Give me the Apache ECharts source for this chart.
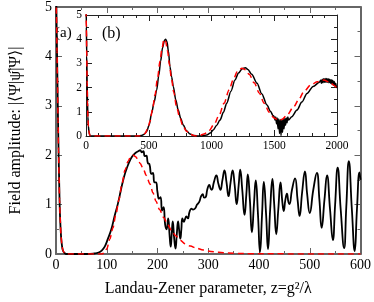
<!DOCTYPE html>
<html>
<head>
<meta charset="utf-8">
<script src="https://cdn.jsdelivr.net/npm/echarts@6/dist/echarts.min.js"></script>
<style>html,body{margin:0;padding:0;background:#fff;}#c{width:374px;height:302px;}</style>
</head>
<body>
<div id="c"></div>
<script>
// Main panel (a): z from 0 to 600
const mainXTicks = [0, 100, 200, 300, 400, 500, 600];
const mainYTicks = [0, 1, 2, 3, 4, 5];
const mainBlack = [[0,5.6],[1,4.8],[2,4.1],[3,3.4],[4,2.7],[5,2.1],[6,1.6],[7,1.1],[8,0.75],[10,0.35],[12,0.15],[14,0.06],[17,0.02],[20,0],[60,0],[75,0.01],[84,0.03],[90,0.07],[96,0.15],[102,0.3],[109,0.5],[115,0.75],[122,1.02],[128,1.3],[134,1.56],[140,1.75],[147,1.92],[152,2.0],[157,2.05],[162,2.08],[166,2.1],[169,2.06],[172,2.08],[175,1.98],[178,1.99],[181,1.84],[184,1.82],[188,1.62],[191,1.64],[194,1.45],[197,1.45],[200,1.25],[203,1.12],[206,1.15],[209,0.88],[212,0.95],[215,0.6],[218,0.5],[221,0.72],[224,0.35],[226,0.15],[228,0.4],[230,0.66],[233,0.3],[235.5,0.11],[238,0.4],[240.5,0.66],[243,0.45],[245,0.31],[247,0.5],[249,0.72],[252,0.65],[254,0.7],[257,0.76],[260,0.72],[263,0.85],[267,0.92],[270,0.9],[274,0.92],[278,1.0],[282,1.05],[286,1.17],[289,1.21],[292,1.14],[295,1.15],[298,1.3],[302,1.40],[305,1.32],[307,1.30],[311,1.45],[316,1.59],[320,1.42],[324,1.30],[328,1.5],[332,1.69],[336,1.45],[340,1.17],[344,1.45],[348,1.69],[352,1.4],[356,1.01],[360,1.4],[363,1.71],[367,1.3],[371.5,0.79],[375,1.2],[378,1.61],[382,1.1],[386,0.44],[390,1.0],[393.6,1.49],[398,0.8],[402,0.04],[406,0.8],[409.5,1.46],[414,0.8],[417.7,0.1],[422,0.9],[426.5,1.52],[430,1.0],[434,0.4],[438,0.9],[442.4,1.45],[446,1.05],[448.7,0.87],[452,1.1],[455,1.22],[458,1.05],[460,1.01],[465,1.3],[471,1.53],[476,1.1],[480,0.77],[485,1.25],[490.5,1.67],[495,1.2],[500,0.83],[507,1.3],[514,1.64],[519,1.1],[523.5,0.53],[529,1.1],[534,1.59],[540,0.9],[545.5,0.28],[550,1.0],[555,1.75],[561,0.9],[567.7,0.12],[572,0.95],[577,1.88],[583,0.9],[588.6,0.06],[593,0.9],[598,1.65],[600,1.5]];
const mainRed = [[0,5.6],[1,4.8],[2,4.1],[3,3.4],[4,2.7],[5,2.1],[6,1.6],[7,1.1],[8,0.75],[10,0.35],[12,0.15],[14,0.06],[17,0.02],[20,0],[90,0],[95,0.02],[100,0.1],[106,0.3],[112,0.52],[118,0.8],[124,1.1],[130,1.42],[136,1.7],[142,1.88],[147,1.97],[152,2.0],[157,1.97],[162,1.9],[166,1.83],[172,1.72],[178,1.59],[185,1.42],[191,1.24],[197,1.07],[204,0.9],[212,0.74],[220,0.6],[228,0.47],[236,0.37],[245,0.28],[254,0.21],[265,0.16],[276,0.12],[290,0.08],[305,0.05],[320,0.035],[340,0.02],[370,0.008],[400,0.003],[600,0]];

// Inset panel (b): z from 0 to 2000
const insetXTicks = [0, 500, 1000, 1500, 2000];
const insetYTicks = [0, 1, 2, 3, 4, 5];
const insetBlack = [[0,5.6],[3,4.5],[6,3.3],[9,2.2],[12,1.4],[15,0.8],[19,0.4],[24,0.15],[30,0.04],[36,0],[420,0],[440,0.02],[460,0.06],[483,0.18],[503,0.45],[523,0.94],[543,1.4],[563,1.9],[580,2.5],[595,3.1],[610,3.65],[625,3.95],[635,4.0],[645,3.9],[657,3.5],[669,2.86],[682,2.45],[696,2.04],[715,1.5],[735,1.07],[755,0.72],[775,0.45],[800,0.22],[829,0.08],[860,0.02],[895,0.0],[930,0.01],[962,0.04],[990,0.12],[1014,0.25],[1040,0.43],[1068,0.66],[1095,0.98],[1121,1.35],[1155,1.85],[1187,2.31],[1215,2.6],[1245,2.78],[1270,2.82],[1290,2.75],[1320,2.55],[1363,2.18],[1400,1.75],[1442,1.28],[1470,1.02],[1490,0.85],[1500,0.8],[1506,0.66],[1512,0.78],[1518,0.5],[1524,0.74],[1530,0.3],[1536,0.7],[1542,0.1],[1548,0.68],[1554,0.02],[1560,0.68],[1566,0.15],[1572,0.7],[1578,0.3],[1584,0.72],[1590,0.45],[1596,0.74],[1602,0.55],[1608,0.78],[1614,0.66],[1640,0.8],[1681,1.07],[1720,1.4],[1761,1.76],[1810,2.05],[1860,2.22],[1870,2.3],[1876,2.18],[1882,2.34],[1888,2.2],[1894,2.37],[1900,2.22],[1906,2.38],[1912,2.22],[1918,2.38],[1924,2.22],[1930,2.37],[1936,2.2],[1942,2.35],[1948,2.18],[1954,2.32],[1960,2.15],[1966,2.3],[1972,2.1],[1978,2.25],[1984,2.05],[1990,2.18],[1996,2.0],[2000,2.05]];
const insetRed = [[0,5.6],[3,4.5],[6,3.3],[9,2.2],[12,1.4],[15,0.8],[19,0.4],[24,0.15],[30,0.04],[36,0],[430,0],[450,0.03],[470,0.1],[490,0.28],[510,0.6],[530,1.1],[550,1.7],[570,2.4],[590,3.1],[605,3.6],[621,4.0],[635,3.9],[650,3.5],[665,2.95],[680,2.4],[700,1.8],[720,1.25],[745,0.8],[770,0.45],[800,0.2],[835,0.06],[870,0.0],[905,0.02],[940,0.08],[980,0.22],[1020,0.48],[1060,0.85],[1100,1.35],[1140,1.9],[1175,2.35],[1205,2.65],[1243,2.8],[1270,2.74],[1300,2.55],[1340,2.2],[1380,1.78],[1420,1.35],[1460,0.98],[1500,0.74],[1532,0.66],[1560,0.68],[1600,0.85],[1655,1.21],[1700,1.55],[1735,1.83],[1790,2.1],[1841,2.24],[1894,2.31],[1940,2.23],[1975,2.1],[2000,1.97]];

const FONT = 'Liberation Serif';
const chart = echarts.init(document.getElementById('c'), null, {renderer: 'canvas'});

function xAx(grid, ticks, minorSplit, pos, showLabel, color, width, fs, extra) {
  const a = {
    type: 'value', gridIndex: grid, position: pos,
    min: ticks[0], max: ticks[ticks.length - 1], interval: ticks[1] - ticks[0],
    axisLine: {show: true, onZero: false, lineStyle: {color: color, width: width}},
    axisTick: {show: true, inside: true, length: 6, lineStyle: {color: color, width: 1}},
    minorTick: {show: true, splitNumber: minorSplit, length: 3, lineStyle: {color: color, width: 1}},
    axisLabel: {show: showLabel, color: '#000', fontFamily: FONT, fontSize: fs, margin: 4,
                formatter: function (v) { return String(v); }},
    splitLine: {show: false}
  };
  return Object.assign(a, extra || {});
}

const option = {
  animation: false,
  backgroundColor: '#fff',
  grid: [
    {left: 46, top: 6, width: 316, height: 260},
    {left: 86, top: 15, width: 251, height: 121}
  ],
  xAxis: [
    xAx(0, mainXTicks, 2, 'bottom', true, '#666', 2, 14, {
      name: 'Landau-Zener parameter, z=g²/λ', nameLocation: 'middle', nameGap: 27,
      nameTextStyle: {color: '#000', fontFamily: FONT, fontSize: 16}
    }),
    xAx(0, mainXTicks, 2, 'top', false, '#666', 2, 14),
    xAx(1, insetXTicks, 5, 'bottom', true, '#222', 1, 11.5),
    xAx(1, insetXTicks, 5, 'top', false, '#222', 1, 11.5)
  ],
  yAxis: [
    xAx(0, mainYTicks, 2, 'left', true, '#666', 2, 14, {
      name: 'Field amplitude: |⟨Ψ|ψ̂|Ψ⟩|', nameLocation: 'middle', nameGap: 32,
      nameTextStyle: {color: '#000', fontFamily: FONT, fontSize: 16}
    }),
    xAx(0, mainYTicks, 2, 'right', false, '#666', 2, 14),
    xAx(1, insetYTicks, 2, 'left', true, '#222', 1, 11.5),
    xAx(1, insetYTicks, 2, 'right', false, '#222', 1, 11.5)
  ],
  series: [
    {type: 'line', xAxisIndex: 0, yAxisIndex: 0, data: mainBlack, showSymbol: false, smooth: 0.5,
     lineStyle: {color: '#000', width: 1.8}, clip: true},
    {type: 'line', xAxisIndex: 0, yAxisIndex: 0, data: mainRed, showSymbol: false, smooth: 0.3, smoothMonotone: 'x',
     lineStyle: {color: '#ff0000', width: 1.5, type: [6, 4]}, clip: true},
    {type: 'line', xAxisIndex: 2, yAxisIndex: 2, data: insetBlack, showSymbol: false, smooth: 0.3, smoothMonotone: 'x',
     lineStyle: {color: '#000', width: 1.5}, clip: true},
    {type: 'line', xAxisIndex: 2, yAxisIndex: 2, data: insetRed, showSymbol: false, smooth: 0.3, smoothMonotone: 'x',
     lineStyle: {color: '#ff0000', width: 1.5, type: [6, 4]}, clip: true}
  ],
  graphic: [
    {type: 'text', left: 55, top: 26, style: {text: '(a)', fontFamily: FONT, fontSize: 15, fill: '#000'}},
    {type: 'text', left: 102, top: 26, style: {text: '(b)', fontFamily: FONT, fontSize: 16, fill: '#000'}}
  ]
};
chart.setOption(option);
</script>
</body>
</html>
